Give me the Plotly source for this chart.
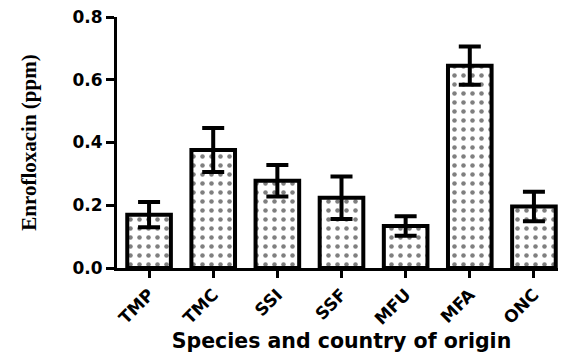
import plotly.graph_objects as go

categories = ["TMP", "TMC", "SSI", "SSF", "MFU", "MFA", "ONC"]
means = [0.17, 0.376, 0.278, 0.224, 0.134, 0.645, 0.196]
errors = [0.04, 0.07, 0.05, 0.068, 0.031, 0.061, 0.047]
y_ticks = [0.0, 0.2, 0.4, 0.6, 0.8]
y_tick_labels = ["0.0", "0.2", "0.4", "0.6", "0.8"]

SANS = "DejaVu Sans, Arial, sans-serif"
SERIF = "Liberation Serif, Times New Roman, serif"

fig = go.Figure()
fig.add_trace(go.Bar(
    x=list(range(len(categories))),
    y=means,
    width=0.68,
    marker=dict(
        color="white",
        line=dict(color="black", width=4),
        pattern=dict(shape=".", size=9, solidity=0.2, fgcolor="black", bgcolor="white", fillmode="overlay"),
    ),
    error_y=dict(type="data", array=errors, visible=True, color="black", thickness=4, width=11),
))

fig.update_layout(
    width=558, height=346,
    margin=dict(l=109, r=0, t=9, b=86),
    paper_bgcolor="white", plot_bgcolor="white",
    showlegend=False,
)
fig.update_xaxes(
    range=[-0.5, 6.5], automargin=False,
    tickmode="array", tickvals=list(range(len(categories))), ticktext=categories,
    tickangle=-45,
    tickfont=dict(family=SANS, size=17, color="black", weight="bold"),
    showline=True, linecolor="black", linewidth=3,
    ticks="outside", ticklen=7, tickwidth=3, tickcolor="black",
    showgrid=False, zeroline=False,
    title=dict(text="Species and country of origin",
               font=dict(family=SANS, size=20.5, color="black", weight="bold"),
               standoff=1),
)
fig.update_yaxes(
    range=[0, 0.8], automargin=False,
    tickmode="array", tickvals=y_ticks, ticktext=y_tick_labels,
    tickfont=dict(family=SANS, size=17, color="black", weight="bold"),
    ticklabeloverflow="allow",
    showline=True, linecolor="black", linewidth=3,
    ticks="outside", ticklen=8, tickwidth=3, tickcolor="black",
    showgrid=False, zeroline=False,
    title=dict(text="Enrofloxacin (ppm)",
               font=dict(family=SERIF, size=21, color="black", weight="bold"),
               standoff=31),
)

fig.write_html("out.html")
